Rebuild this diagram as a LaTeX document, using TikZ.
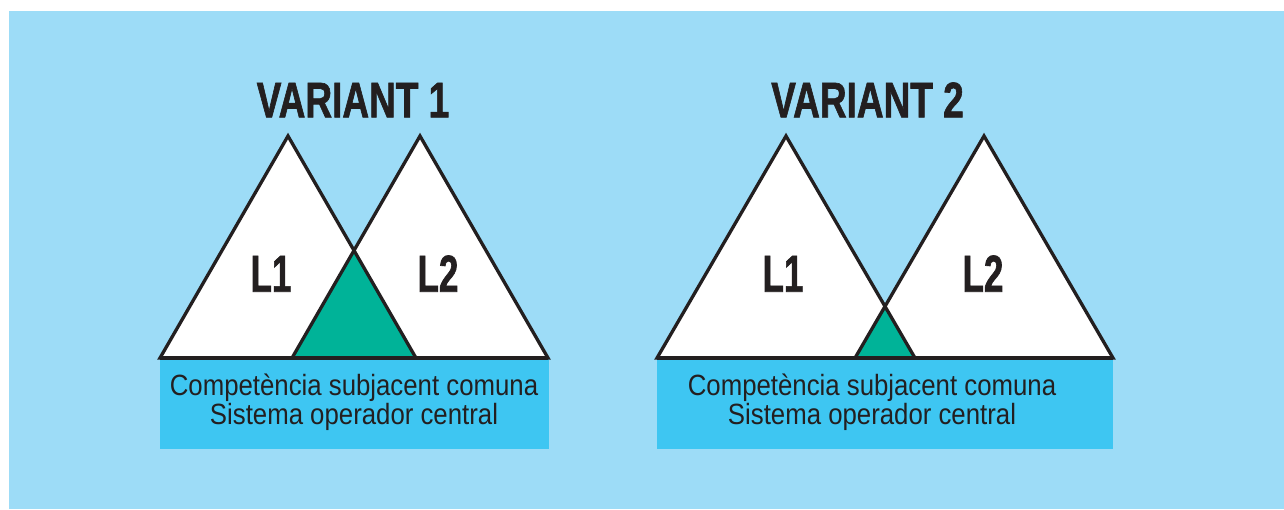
\documentclass[tikz,border=0pt]{standalone}
\usepackage{fontspec}
\setmainfont{Liberation Sans}
\newfontfamily\titlefont{Liberation Sans}[FakeStretch=0.74,FakeBold=1.2]
\newfontfamily\labelfont{Liberation Sans}[FakeStretch=0.67,FakeBold=1.2]
\newfontfamily\basefont{Liberation Sans}[FakeStretch=0.88]
\definecolor{bgblue}{HTML}{9DDCF7}
\definecolor{boxblue}{HTML}{3EC6F2}
\definecolor{tealgreen}{HTML}{00B398}
\definecolor{ink}{HTML}{231F20}
\tikzset{
  tri/.style={draw=ink, line width=3.3pt, line join=miter},
  title/.style={anchor=base, inner sep=0pt, text=ink, font=\titlefont\bfseries\fontsize{50}{50}\selectfont},
  lab/.style={anchor=base, inner sep=0pt, text=ink, font=\labelfont\bfseries\fontsize{52}{52}\selectfont},
  basetext/.style={anchor=base, inner sep=0pt, text=ink, font=\basefont\fontsize{29.3}{29.3}\selectfont},
}
\begin{document}
\begin{tikzpicture}[x=1pt,y=-1pt]
\useasboundingbox (0,0) rectangle (1284,509);
\fill[white] (0,0) rectangle (1284,509);
\fill[bgblue] (9,11) rectangle (1284,509);

% ---------- Variant 1 ----------
\coordinate (a1) at (288,136);
\coordinate (b1l) at (160,358);
\coordinate (b1r) at (416,358);
\coordinate (a2) at (420,136);
\coordinate (c1l) at (292,358);
\coordinate (c1r) at (548,358);
\coordinate (x1) at (354,250.5);
\fill[boxblue] (160,358) rectangle (549,449);
\fill[white] (a1) -- (b1l) -- (b1r) -- cycle;
\fill[white] (a2) -- (c1l) -- (c1r) -- cycle;
\fill[tealgreen] (x1) -- (c1l) -- (b1r) -- cycle;
\draw[tri] (a1) -- (b1l) -- (b1r) -- cycle;
\draw[tri] (a2) -- (c1l) -- (c1r) -- cycle;
\draw[tri] (b1l) -- (c1r);

\node[title] (t1) at (353,117.3) {VARIANT 1};
\node[lab] (l11) at (271,291.7) {L1};
\node[lab] (l12) at (438,291.7) {L2};
\node[basetext] (comp1) at (354,395.5) {Competència subjacent comuna};
\node[basetext] (sys1) at (354,424.3) {Sistema operador central};

% ---------- Variant 2 ----------
\coordinate (d1) at (786,136);
\coordinate (e1l) at (657,358);
\coordinate (e1r) at (915,358);
\coordinate (d2) at (984,136);
\coordinate (f1l) at (855,358);
\coordinate (f1r) at (1113,358);
\coordinate (x2) at (885,306.7);
\fill[boxblue] (657,358) rectangle (1113,449);
\fill[white] (d1) -- (e1l) -- (e1r) -- cycle;
\fill[white] (d2) -- (f1l) -- (f1r) -- cycle;
\fill[tealgreen] (x2) -- (f1l) -- (e1r) -- cycle;
\draw[tri] (d1) -- (e1l) -- (e1r) -- cycle;
\draw[tri] (d2) -- (f1l) -- (f1r) -- cycle;
\draw[tri] (e1l) -- (f1r);

\node[title] (t2) at (867.5,117.3) {VARIANT 2};
\node[lab] (l21) at (783,291.7) {L1};
\node[lab] (l22) at (983,291.7) {L2};
\node[basetext] (comp2) at (872,395.5) {Competència subjacent comuna};
\node[basetext] (sys2) at (872,424.3) {Sistema operador central};
\end{tikzpicture}
\end{document}
